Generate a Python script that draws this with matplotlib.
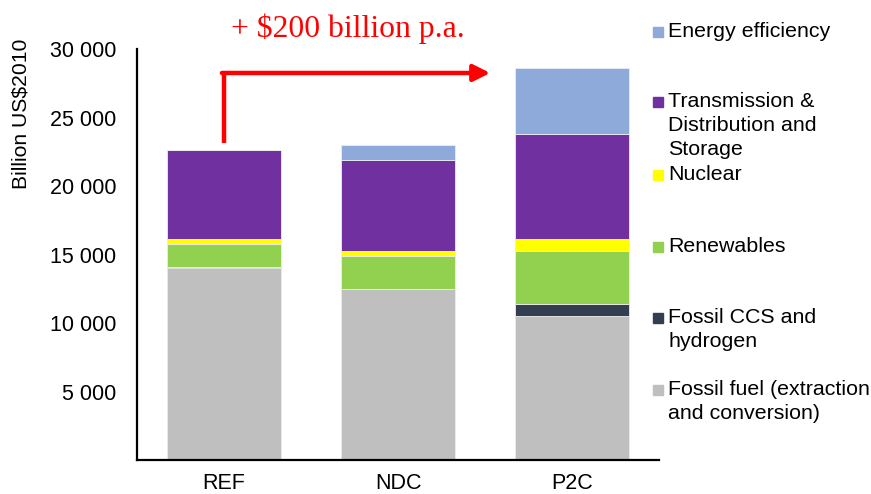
import numpy as np
import matplotlib
matplotlib.use("Agg")
import matplotlib.pyplot as plt
from matplotlib.patches import Rectangle

plt.rcParams["font.family"] = ["Liberation Sans", "DejaVu Sans"]

scenarios = ["REF", "NDC", "P2C"]

# stacked from the bottom up
series_names = [
    "Fossil fuel (extraction\nand conversion)",
    "Fossil CCS and\nhydrogen",
    "Renewables",
    "Nuclear",
    "Transmission &\nDistribution and\nStorage",
    "Energy efficiency",
]
series_colors = ["#bfbfbf", "#333f50", "#92d050", "#ffff00", "#7030a0", "#8eaadb"]

fossil_fuel = [14000, 12460, 10540]
fossil_ccs = [60, 0, 850]
renewables = [1720, 2420, 3880]
nuclear = [320, 410, 830]
transmission = [6510, 6590, 7710]
efficiency = [0, 1100, 4780]

series_values = [fossil_fuel, fossil_ccs, renewables, nuclear, transmission, efficiency]

fig = plt.figure(figsize=(8.71, 4.94), dpi=100)
ax = fig.add_axes([0.1573, 0.0688, 0.5993, 0.832])

x = np.arange(len(scenarios))
bottom = np.zeros(len(scenarios))
for name, vals, color in zip(series_names, series_values, series_colors):
    vals = np.asarray(vals, dtype=float)
    ax.bar(x, vals, width=0.66, bottom=bottom, color=color,
           edgecolor="#ececec", linewidth=0.6)
    bottom += vals

ax.set_xlim(-0.5, 2.5)
ax.set_ylim(0, 30000)
ax.set_yticks(np.arange(5000, 30001, 5000))
ax.set_yticklabels([f"{v:,}".replace(",", " ") for v in range(5000, 30001, 5000)])
ax.set_xticks(x, labels=scenarios)
ax.tick_params(axis="both", length=0, labelsize=15.5)
ax.tick_params(axis="y", pad=15)
ax.tick_params(axis="x", pad=9)
ax.set_ylabel("Billion US$2010", fontsize=15.2)
ax.yaxis.set_label_coords(-0.205, 0.842)
for side in ("top", "right"):
    ax.spines[side].set_visible(False)
for side in ("left", "bottom"):
    ax.spines[side].set_linewidth(1.6)

# red step arrow REF -> P2C
top_ref = bottom[0]
ax.plot([0, 0], [top_ref + 500, 28250], color="red", lw=3.2,
        solid_capstyle="butt", clip_on=False)
ax.annotate("", xy=(1.53, 28250), xytext=(-0.012, 28250),
            arrowprops=dict(arrowstyle="-|>,head_length=1.0,head_width=0.5",
                            color="red", lw=3.2, shrinkA=0, shrinkB=0),
            annotation_clip=False)
ax.text(0.71, 31450, "+ $200 billion p.a.", color="red", fontsize=22.8,
        family=["Liberation Serif", "DejaVu Serif"], ha="center", va="center",
        clip_on=False)

# legend, spaced like the original
legend_y = [32, 102, 175, 247, 318, 390]  # pixel rows, top down
W, H = 871, 494
for name, color, py in zip(series_names[::-1], series_colors[::-1], legend_y):
    fig.patches.append(Rectangle((653 / W, 1 - (py + 5) / H), 10 / W, 10 / H,
                                 transform=fig.transFigure, color=color))
    fig.text(668 / W, 1 - (py - 10) / H, name, fontsize=15.4, va="top",
             ha="left", linespacing=1.32)

fig.savefig("out.png", dpi=100)
